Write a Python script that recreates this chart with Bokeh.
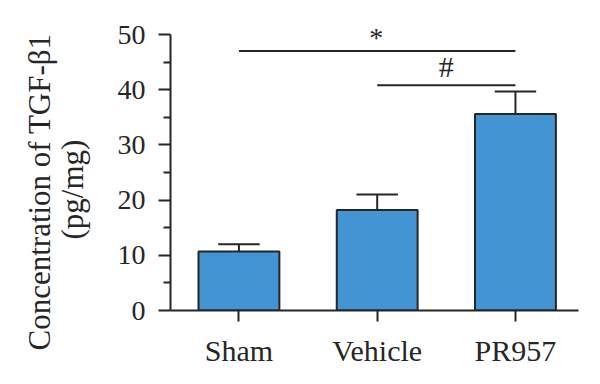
from bokeh.plotting import figure
from bokeh.models import Range1d, FixedTicker, Title
from bokeh.core.properties import value
from bokeh.embed import file_html
from bokeh.resources import INLINE

# ---- data ----
groups = ["Sham", "Vehicle", "PR957"]
means = [10.7, 18.2, 35.6]
errors = [1.3, 2.8, 4.1]
y_ticks = [0, 10, 20, 30, 40, 50]
y_minor = [5, 15, 25, 35, 45]
sig_start = [0, 1]
sig_end = [2, 2]
sig_level = [47.0, 40.8]
sig_mark = ["*", "#"]
y_title = ["Concentration of TGF-\u03b21", "(pg/mg)"]

FONT = "Liberation Serif"
DARK = "#262626"
BAR = "#4294d2"
LW = 2

xs = list(range(len(groups)))

p = figure(width=584, height=376, output_backend="svg", toolbar_location=None,
           x_range=Range1d(-0.495, 2.456), y_range=Range1d(0, 52),
           min_border_left=170, min_border_right=6, min_border_top=23,
           min_border_bottom=66)
p.outline_line_color = None
p.grid.visible = False

# bars
p.vbar(x=xs, top=means, width=0.585, bottom=0, fill_color=BAR,
       line_color=DARK, line_width=LW)

# error bars (upper only)
tops = [m + e for m, e in zip(means, errors)]
p.segment(x0=xs, y0=means, x1=xs, y1=tops, line_color=DARK, line_width=LW)
cap = 0.15
p.segment(x0=[x - cap for x in xs], y0=tops, x1=[x + cap for x in xs], y1=tops,
          line_color=DARK, line_width=LW)

# significance lines
p.segment(x0=sig_start, y0=sig_level, x1=sig_end, y1=sig_level,
          line_color=DARK, line_width=LW)
mid = [(a + b) / 2 for a, b in zip(sig_start, sig_end)]
mark_style = {"*": (-1, 14, "28px"), "#": (0, 19, "30px")}
for xm, yl, mk in zip(mid, sig_level, sig_mark):
    dx, dy, fs = mark_style[mk]
    p.text(x=[xm], y=[yl], text=[mk], text_align="center",
           text_baseline="alphabetic", x_offset=dx, y_offset=-dy,
           text_font=value(FONT), text_font_size=fs, text_color=DARK)

# axes
yax = p.yaxis[0]
yax.bounds = (0, 50)
yax.ticker = FixedTicker(ticks=y_ticks, minor_ticks=y_minor)
yax.major_tick_out = 12
yax.major_tick_in = 0
yax.minor_tick_out = 7
yax.minor_tick_in = 0
yax.axis_line_width = LW
yax.axis_line_color = DARK
yax.major_tick_line_width = LW
yax.major_tick_line_color = DARK
yax.minor_tick_line_width = LW
yax.minor_tick_line_color = DARK
yax.major_label_text_font = FONT
yax.major_label_text_font_size = "28px"
yax.major_label_text_color = DARK
yax.major_label_standoff = 13

xax = p.xaxis[0]
xax.ticker = FixedTicker(ticks=xs)
xax.major_label_overrides = {i: g for i, g in zip(xs, groups)}
xax.major_tick_out = 11
xax.major_tick_in = 0
xax.minor_tick_out = 0
xax.minor_tick_in = 0
xax.axis_line_width = LW
xax.axis_line_color = DARK
xax.major_tick_line_width = LW
xax.major_tick_line_color = DARK
xax.major_label_text_font = FONT
xax.major_label_text_font_size = "30px"
xax.major_label_text_color = DARK
xax.major_label_standoff = 12


def make_title(txt, off, size, standoff):
    t = Title(text=txt, align="left", offset=off, vertical_align="middle",
              text_font=FONT, text_font_size=size,
              text_font_style="normal", text_color=DARK)
    if "standoff" in t.properties():
        t.standoff = standoff
    return t


# spacer between tick labels and the title lines
p.add_layout(make_title(" ", 0, "1px", 22), "left")
# y-axis title: two rotated lines (inner line added first)
p.add_layout(make_title(y_title[1], 71, "31px", -2), "left")
p.add_layout(make_title(y_title[0], -40, "31px", -6), "left")

open("out.html", "w").write(file_html(p, INLINE))
